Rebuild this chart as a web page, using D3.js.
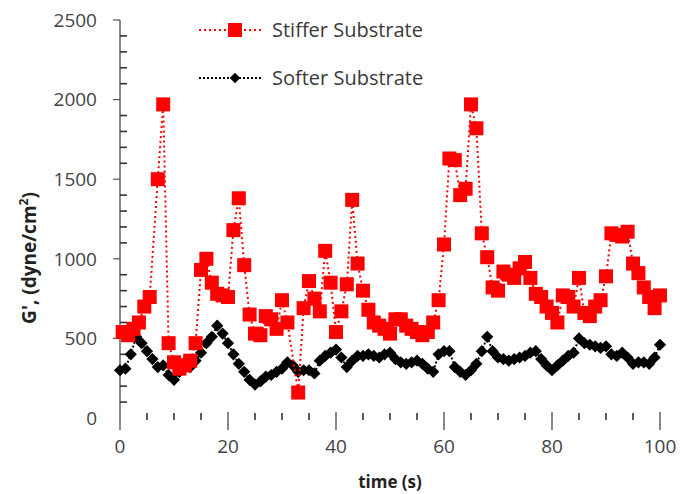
<!DOCTYPE html>
<html>
<head>
<meta charset="utf-8">
<script src="https://cdn.jsdelivr.net/npm/d3@7"></script>
<style>
  html, body { margin: 0; padding: 0; background: #fff; }
  svg { display: block; }
</style>
</head>
<body>
<svg id="chart" width="681" height="494"></svg>
<script>
const width = 681;
const height = 494;

// stiffer substrate: time (s) and G' (dyne/cm2)
const stiffTime = [0.5, 1.5, 2.5, 3.5, 4.5, 5.5, 7, 8, 9, 10, 11, 12, 13, 14, 15, 16, 17, 18, 19, 20,
  21, 22, 23, 24, 25, 26, 27, 28, 29, 30, 31, 33, 34, 35, 36, 37, 38, 39, 40, 41,
  42, 43, 44, 45, 46, 47, 48, 49, 50, 51, 52, 53, 54, 55, 56, 57, 58, 59, 60, 61,
  62, 63, 64, 65, 66, 67, 68, 69, 70, 71, 72, 73, 74, 75, 76, 77, 78, 79, 80, 81,
  82, 83, 84, 85, 86, 87, 88, 89, 90, 91, 92, 93, 94, 95, 96, 97, 98, 99, 100];
const stiffValues = [540, 520, 560, 600, 700, 760, 1500, 1970, 470, 350, 310, 330, 360, 470, 930, 1000, 850, 780, 770, 760,
  1180, 1380, 960, 650, 530, 520, 640, 620, 560, 740, 600, 160, 690, 860, 750, 670, 1050, 850, 540, 670,
  840, 1370, 970, 800, 680, 600, 580, 560, 530, 620, 620, 580, 560, 540, 520, 540, 600, 740, 1090, 1630,
  1620, 1400, 1440, 1970, 1820, 1160, 1010, 820, 800, 920, 900, 880, 940, 980, 880, 780, 760, 700, 660, 600,
  770, 760, 700, 880, 660, 640, 700, 740, 890, 1160, 1150, 1140, 1170, 970, 910, 820, 760, 690, 770];

// softer substrate: one reading per second, 0..100 s
const softValues = [300, 310, 400, 510, 470, 420, 370, 320, 330, 270, 240, 290, 350, 320, 360, 410, 470, 510, 580, 530,
  470, 400, 340, 290, 240, 210, 230, 260, 270, 290, 310, 350, 330, 290, 300, 300, 280, 360, 390, 410,
  430, 380, 320, 360, 390, 390, 400, 390, 380, 400, 410, 370, 350, 340, 350, 360, 340, 310, 290, 400,
  420, 420, 320, 290, 270, 300, 340, 420, 510, 420, 380, 370, 360, 370, 380, 390, 410, 420, 370, 330,
  300, 330, 360, 390, 410, 500, 470, 460, 450, 440, 450, 400, 390, 410, 380, 340, 350, 350, 340, 380, 460];

const xTicks = [0, 20, 40, 60, 80, 100];
const yTicks = [0, 500, 1000, 1500, 2000, 2500];

const stiff = stiffTime.map((t, i) => ({ t: t, v: stiffValues[i] }));
const soft = softValues.map((v, i) => ({ t: i, v: v }));

const svg = d3.select("#chart");

const x = d3.scaleLinear().domain([0, 100]).range([120, 660]);
const y = d3.scaleLinear().domain([0, 2500]).range([418, 20]);

const FONT = "'Open Sans', sans-serif";
const TEXT = "#3a3a3a";

// y axis line
svg.append("line")
  .attr("x1", 120).attr("x2", 120)
  .attr("y1", y(2500)).attr("y2", 430)
  .attr("stroke", "#8a8a8a").attr("stroke-width", 2);

// y minor ticks (inside) every 100
const yMinor = d3.range(100, 2500, 100).filter(d => d % 500 !== 0);
svg.append("g").selectAll("line").data(yMinor).join("line")
  .attr("x1", 120).attr("x2", 127)
  .attr("y1", d => y(d)).attr("y2", d => y(d))
  .attr("stroke", "#333").attr("stroke-width", 1.6);

svg.append("g").selectAll("line").data(yTicks.slice(1)).join("line")
  .attr("x1", 113).attr("x2", 120)
  .attr("y1", d => y(d)).attr("y2", d => y(d))
  .attr("stroke", "#555").attr("stroke-width", 1.2);

svg.append("g").selectAll("text").data(yTicks).join("text")
  .attr("x", 97).attr("y", d => y(d))
  .attr("dy", "0.36em")
  .attr("text-anchor", "end")
  .attr("font-family", FONT).attr("font-size", 19)
  .attr("fill", "#444")
  .text(d => d);

// x ticks
const xMinor = d3.range(5, 100, 5).filter(d => d % 20 !== 0);
svg.append("g").selectAll("line").data(xMinor).join("line")
  .attr("x1", d => x(d)).attr("x2", d => x(d))
  .attr("y1", 413).attr("y2", 420)
  .attr("stroke", "#333").attr("stroke-width", 1.6);

svg.append("g").selectAll("line").data(xTicks.slice(1)).join("line")
  .attr("x1", d => x(d)).attr("x2", d => x(d))
  .attr("y1", 412).attr("y2", 430)
  .attr("stroke", "#555").attr("stroke-width", 1.4);

svg.append("g").selectAll("text").data(xTicks).join("text")
  .attr("x", d => x(d)).attr("y", 446)
  .attr("dy", "0.36em")
  .attr("text-anchor", "middle")
  .attr("font-family", FONT).attr("font-size", 19)
  .attr("fill", "#444")
  .text(d => d);

// axis titles
svg.append("text")
  .attr("x", 390).attr("y", 482)
  .attr("dy", "0.36em")
  .attr("text-anchor", "middle")
  .attr("font-family", FONT).attr("font-size", 17).attr("font-weight", "bold")
  .attr("fill", "#222")
  .text("time (s)");

const yTitle = svg.append("text")
  .attr("transform", "translate(36,258) rotate(-90)")
  .attr("text-anchor", "middle")
  .attr("font-family", FONT).attr("font-size", 19).attr("font-weight", "bold")
  .attr("fill", "#222");
yTitle.append("tspan").text("G', (dyne/cm");
yTitle.append("tspan").attr("font-size", 12).attr("dy", -8).text("2");
yTitle.append("tspan").attr("dy", 8).text(")");

// series
const line = d3.line().x(d => x(d.t)).y(d => y(d.v));

svg.append("path").datum(soft)
  .attr("d", line)
  .attr("fill", "none").attr("stroke", "#000")
  .attr("stroke-width", 2).attr("stroke-dasharray", "2,2");

svg.append("g").selectAll("path").data(soft).join("path")
  .attr("d", d3.symbol(d3.symbolDiamond2, 95))
  .attr("transform", d => `translate(${x(d.t)},${y(d.v)})`)
  .attr("fill", "#000");

svg.append("path").datum(stiff)
  .attr("d", line)
  .attr("fill", "none").attr("stroke", "#ff0000")
  .attr("stroke-width", 2).attr("stroke-dasharray", "2,3");

svg.append("g").selectAll("rect").data(stiff).join("rect")
  .attr("x", d => x(d.t) - 7).attr("y", d => y(d.v) - 7)
  .attr("width", 14).attr("height", 14)
  .attr("fill", "#ff0000");

// legend
const legend = [
  { name: "Stiffer Substrate", color: "#ff0000", dash: "2,3", yy: 30, marker: "square" },
  { name: "Softer Substrate", color: "#000", dash: "2,2", yy: 78, marker: "diamond" }
];

legend.forEach(l => {
  svg.append("line")
    .attr("x1", 199).attr("x2", 262)
    .attr("y1", l.yy).attr("y2", l.yy)
    .attr("stroke", l.color).attr("stroke-width", 2)
    .attr("stroke-dasharray", l.dash);
  if (l.marker === "square") {
    svg.append("rect")
      .attr("x", 228).attr("y", l.yy - 7)
      .attr("width", 14).attr("height", 14)
      .attr("fill", l.color);
  } else {
    svg.append("path")
      .attr("d", d3.symbol(d3.symbolDiamond2, 70))
      .attr("transform", `translate(235,${l.yy})`)
      .attr("fill", l.color);
  }
  svg.append("text")
    .attr("x", 272).attr("y", l.yy)
    .attr("dy", "0.36em")
    .attr("font-family", FONT).attr("font-size", 20)
    .attr("fill", TEXT)
    .text(l.name);
});
</script>
</body>
</html>
